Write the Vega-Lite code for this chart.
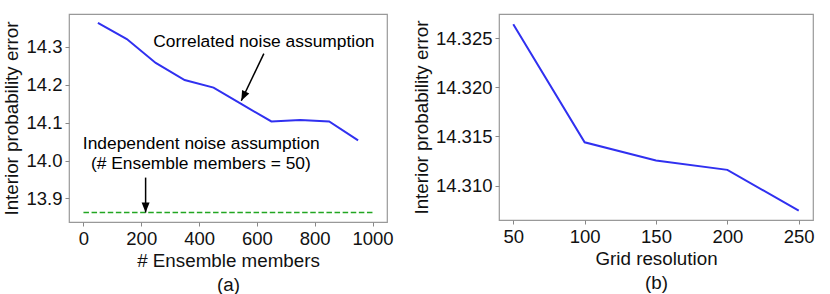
{
  "$schema": "https://vega.github.io/schema/vega-lite/v6.json",
  "padding": {"left": 2, "top": 13, "right": 5, "bottom": 2},
  "background": "white",
  "config": {
    "font": "Liberation Sans",
    "view": {"stroke": "#999999", "strokeWidth": 1.2},
    "axis": {
      "domain": false, "grid": false, "ticks": true, "tickColor": "#888888", "tickSize": 4, "tickWidth": 1,
      "labelFont": "Liberation Sans", "labelFontSize": 18.5, "labelColor": "#111111", "labelPadding": 3,
      "titleFont": "Liberation Sans", "titleFontSize": 18.8, "titleFontWeight": "normal", "titleColor": "#111111",
      "titlePadding": 4, "titleLineHeight": 24
    }
  },
  "datasets": {
    "ens": [
      {"members": 50, "error": 14.3625},
      {"members": 150, "error": 14.320},
      {"members": 250, "error": 14.257},
      {"members": 350, "error": 14.212},
      {"members": 450, "error": 14.192},
      {"members": 550, "error": 14.147},
      {"members": 650, "error": 14.103},
      {"members": 750, "error": 14.107},
      {"members": 850, "error": 14.103},
      {"members": 950, "error": 14.053}
    ],
    "indep": [
      {"members": 0, "error": 13.863},
      {"members": 1000, "error": 13.863}
    ],
    "labels": [
      {"members": 624, "error": 14.299, "text": "Correlated noise assumption"},
      {"members": 407.6, "error": 14.030, "text": "Independent noise assumption"},
      {"members": 406, "error": 13.977, "text": "(# Ensemble members = 50)"}
    ],
    "arrows": [
      {"x1": 624, "y1": 14.2815, "x2": 546, "y2": 14.1575, "angle": 26},
      {"x1": 215, "y1": 13.955, "x2": 215, "y2": 13.863, "angle": 0}
    ],
    "grid": [
      {"res": 50, "error": 14.3264},
      {"res": 100, "error": 14.3144},
      {"res": 150, "error": 14.31255},
      {"res": 200, "error": 14.3116},
      {"res": 250, "error": 14.30745}
    ]
  },
  "bounds": "flush",
  "spacing": 112,
  "hconcat": [
    {
      "width": 318,
      "height": 208,
      "layer": [
        {
          "data": {"name": "indep"},
          "mark": {"type": "line", "color": "#22a622", "strokeWidth": 1.7, "strokeDash": [5.5, 2.6]},
          "encoding": {
            "x": {"field": "members", "type": "quantitative", "scale": {"domain": [-50, 1050], "nice": false, "zero": false},
                  "axis": {"values": [0, 200, 400, 600, 800, 1000], "format": "d", "title": ["# Ensemble members", "(a)"]}},
            "y": {"field": "error", "type": "quantitative", "scale": {"domain": [13.838, 14.386], "nice": false, "zero": false},
                  "axis": {"values": [13.9, 14.0, 14.1, 14.2, 14.3], "format": ".1f", "title": "Interior probability error"}}
          }
        },
        {
          "data": {"name": "ens"},
          "mark": {"type": "line", "color": "#3030f0", "strokeWidth": 2},
          "encoding": {
            "x": {"field": "members", "type": "quantitative"},
            "y": {"field": "error", "type": "quantitative"}
          }
        },
        {
          "data": {"name": "arrows"},
          "mark": {"type": "rule", "color": "black", "strokeWidth": 1.5},
          "encoding": {
            "x": {"field": "x1", "type": "quantitative"},
            "y": {"field": "y1", "type": "quantitative"},
            "x2": {"field": "x2"},
            "y2": {"field": "y2"}
          }
        },
        {
          "data": {"name": "arrows"},
          "mark": {"type": "point", "shape": "M0,0L-0.4,-1L0.4,-1Z", "filled": true, "color": "black", "opacity": 1, "size": 400},
          "encoding": {
            "x": {"field": "x2", "type": "quantitative"},
            "y": {"field": "y2", "type": "quantitative"},
            "angle": {"field": "angle", "type": "quantitative", "scale": null}
          }
        },
        {
          "data": {"name": "labels"},
          "mark": {"type": "text", "fontSize": 17.4, "font": "Liberation Sans", "color": "black", "align": "center", "baseline": "alphabetic"},
          "encoding": {
            "x": {"field": "members", "type": "quantitative"},
            "y": {"field": "error", "type": "quantitative"},
            "text": {"field": "text"}
          }
        }
      ]
    },
    {
      "width": 314,
      "height": 206,
      "data": {"name": "grid"},
      "mark": {"type": "line", "color": "#3030f0", "strokeWidth": 2},
      "encoding": {
        "x": {"field": "res", "type": "quantitative", "scale": {"domain": [40, 260], "nice": false, "zero": false},
              "axis": {"values": [50, 100, 150, 200, 250], "title": ["Grid resolution", "(b)"]}},
        "y": {"field": "error", "type": "quantitative", "scale": {"domain": [14.3065, 14.32745], "nice": false, "zero": false},
              "axis": {"values": [14.310, 14.315, 14.320, 14.325], "format": ".3f", "title": "Interior probability error"}}
      }
    }
  ]
}
